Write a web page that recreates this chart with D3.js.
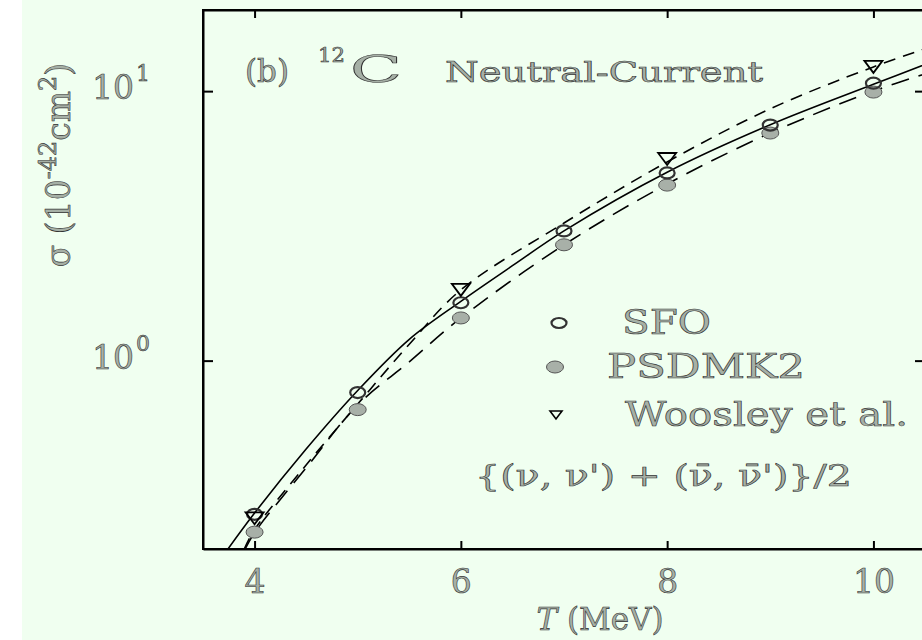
<!DOCTYPE html>
<html>
<head>
<meta charset="utf-8">
<script src="https://cdn.jsdelivr.net/npm/d3@7"></script>
<style>
  body { margin: 0; background: #ffffff; }
  svg { display: block; }
</style>
</head>
<body>
<div id="chart"></div>
<script>
// measured points
const tPoints = [4, 5, 6, 7, 8, 9, 10];
const sfo = [0.269, 0.761, 1.64, 3.03, 4.97, 7.48, 10.7];
const psdmk2 = [0.231, 0.658, 1.44, 2.69, 4.48, 6.99, 9.92];
const tWoosley = [4, 6, 8, 10];
const woosley = [0.26, 1.83, 5.6, 12.3];

// fitted curves
const tSolid = [3.7, 4, 4.5, 5, 5.5, 6, 6.5, 7, 8, 9, 10, 10.6];
const solidCurve = [0.19, 0.272, 0.47, 0.775, 1.2, 1.66, 2.25, 3.03, 5.0, 7.5, 10.6, 13.0];
const tDash = [3.9, 4, 4.5, 5, 5.5, 6, 7, 8, 9, 10, 10.6];
const shortDashCurve = [0.2, 0.236, 0.41, 0.69, 1.15, 1.83, 3.24, 5.46, 8.6, 12.3, 14.8];
const longDashCurve = [0.197, 0.23, 0.4, 0.685, 0.99, 1.44, 2.69, 4.52, 6.99, 10.0, 11.9];

const xTicks = [4, 6, 8, 10];
const yTicks = [1, 10];
const yTickExp = ["0", "1"];

const width = 922, height = 640;
const margin = { left: 203, right: -3, top: 10, bottom: 91 };

const svg = d3.select("#chart").append("svg")
  .attr("width", width).attr("height", height);

// page background (white strip on the left)
svg.append("rect").attr("x", 22).attr("y", 0)
  .attr("width", width - 22).attr("height", height).attr("fill", "#f0fff0");

const x = d3.scaleLinear().domain([3.5, 10.5]).range([margin.left, width - margin.right]);
const y = d3.scaleLog().domain([0.2, 20]).range([height - margin.bottom, margin.top]);

const font = "'DejaVu Serif', 'Liberation Serif', serif";
const outlined = (sel) => sel
  .attr("font-family", font)
  .attr("fill", "#a6b0a6")
  .attr("stroke", "#333")
  .attr("stroke-width", 0.6);

// clip to the frame
svg.append("clipPath").attr("id", "plot-clip")
  .append("rect")
  .attr("x", x.range()[0]).attr("y", y.range()[1])
  .attr("width", x.range()[1] - x.range()[0])
  .attr("height", y.range()[0] - y.range()[1]);

// axes: ticks point inward
const bottomAxis = svg.append("g")
  .attr("transform", `translate(0,${y.range()[0]})`)
  .call(d3.axisBottom(x).tickValues(xTicks).tickFormat(d3.format("d"))
    .tickSizeInner(-8).tickSizeOuter(0).tickPadding(21));
bottomAxis.selectAll("text").call(outlined).attr("font-size", 33);

svg.append("g")
  .attr("transform", `translate(0,${y.range()[1]})`)
  .call(d3.axisTop(x).tickValues(xTicks).tickSizeInner(-8).tickSizeOuter(0).tickFormat(""));

svg.append("g")
  .attr("transform", `translate(${x.range()[0]},0)`)
  .call(d3.axisLeft(y).tickValues(yTicks).tickSizeInner(-10).tickSizeOuter(0).tickFormat(""));

svg.append("g")
  .attr("transform", `translate(${x.range()[1]},0)`)
  .call(d3.axisRight(y).tickValues(yTicks).tickSizeInner(-10).tickSizeOuter(0).tickFormat(""));

svg.selectAll(".domain").attr("stroke", "#000").attr("stroke-width", 2);
svg.selectAll(".tick line").attr("stroke", "#000").attr("stroke-width", 2);

// y tick labels 10^n
yTicks.forEach((v, i) => {
  const t = svg.append("text")
    .attr("x", 92).attr("y", y(v) + 8)
    .attr("font-size", 33)
    .call(outlined);
  t.append("tspan").text("10");
  t.append("tspan").attr("font-size", 22).attr("dy", -18).attr("dx", 2).text(yTickExp[i]);
});

// curves
const plot = svg.append("g").attr("clip-path", "url(#plot-clip)");
const line = d3.line()
  .x((d) => x(d[0]))
  .y((d) => y(d[1]))
  .curve(d3.curveCatmullRom.alpha(0.5));

plot.append("path")
  .datum(d3.zip(tSolid, solidCurve))
  .attr("d", line)
  .attr("fill", "none").attr("stroke", "#000").attr("stroke-width", 1.6);

plot.append("path")
  .datum(d3.zip(tDash, shortDashCurve))
  .attr("d", line)
  .attr("fill", "none").attr("stroke", "#000").attr("stroke-width", 1.6)
  .attr("stroke-dasharray", "12,8");

plot.append("path")
  .datum(d3.zip(tDash, longDashCurve))
  .attr("d", line)
  .attr("fill", "none").attr("stroke", "#000").attr("stroke-width", 1.6)
  .attr("stroke-dasharray", "18,10");

// markers
const triPath = "M -9 -6 L 9 -6 L 0 6 Z";

plot.selectAll(".psdmk2")
  .data(d3.zip(tPoints, psdmk2))
  .join("ellipse")
  .attr("class", "psdmk2")
  .attr("cx", (d) => x(d[0])).attr("cy", (d) => y(d[1]))
  .attr("rx", 8.5).attr("ry", 6)
  .attr("fill", "#a8b0a8").attr("stroke", "#555").attr("stroke-width", 1);

plot.selectAll(".sfo")
  .data(d3.zip(tPoints, sfo))
  .join("ellipse")
  .attr("class", "sfo")
  .attr("cx", (d) => x(d[0])).attr("cy", (d) => y(d[1]))
  .attr("rx", 7.5).attr("ry", 5.5)
  .attr("fill", "none").attr("stroke", "#333").attr("stroke-width", 2.2);

plot.selectAll(".woosley")
  .data(d3.zip(tWoosley, woosley))
  .join("path")
  .attr("class", "woosley")
  .attr("transform", (d) => `translate(${x(d[0])},${y(d[1])})`)
  .attr("d", triPath)
  .attr("fill", "none").attr("stroke", "#000").attr("stroke-width", 1.8);

// frame
svg.append("rect")
  .attr("x", x.range()[0]).attr("y", y.range()[1])
  .attr("width", x.range()[1] - x.range()[0])
  .attr("height", y.range()[0] - y.range()[1])
  .attr("fill", "none").attr("stroke", "#000").attr("stroke-width", 2);

// title
svg.append("text").attr("x", 245).attr("y", 82).attr("font-size", 31)
  .attr("textLength", 44).attr("lengthAdjust", "spacingAndGlyphs")
  .call(outlined).text("(b)");
svg.append("text").attr("x", 318).attr("y", 62).attr("font-size", 20)
  .attr("textLength", 27).attr("lengthAdjust", "spacingAndGlyphs")
  .call(outlined).text("12");
svg.append("text").attr("x", 350).attr("y", 82).attr("font-size", 37)
  .attr("textLength", 52).attr("lengthAdjust", "spacingAndGlyphs")
  .call(outlined).text("C");
svg.append("text").attr("x", 445).attr("y", 82).attr("font-size", 27)
  .attr("textLength", 318).attr("lengthAdjust", "spacingAndGlyphs")
  .call(outlined).text("Neutral-Current");

// legend
const legend = svg.append("g");
legend.append("ellipse").attr("cx", 559).attr("cy", 323).attr("rx", 7.5).attr("ry", 5)
  .attr("fill", "none").attr("stroke", "#333").attr("stroke-width", 2.2);
legend.append("ellipse").attr("cx", 555).attr("cy", 367).attr("rx", 8.5).attr("ry", 6)
  .attr("fill", "#a8b0a8").attr("stroke", "#555").attr("stroke-width", 1);
legend.append("path").attr("transform", "translate(556,415)").attr("d", "M -6 -4 L 6 -4 L 0 4 Z")
  .attr("fill", "none").attr("stroke", "#000").attr("stroke-width", 1.6);

const legendItems = [
  { label: "SFO", x: 622, y: 334, w: 89 },
  { label: "PSDMK2", x: 607, y: 378, w: 198 },
  { label: "Woosley et al.", x: 625, y: 426, w: 283 },
];
legendItems.forEach((d) => {
  legend.append("text").attr("x", d.x).attr("y", d.y).attr("font-size", 33)
    .attr("textLength", d.w).attr("lengthAdjust", "spacingAndGlyphs")
    .call(outlined).text(d.label);
});

legend.append("text").attr("x", 475).attr("y", 486).attr("font-size", 29)
  .attr("textLength", 377).attr("lengthAdjust", "spacingAndGlyphs")
  .call(outlined)
  .text("{(\u03BD, \u03BD') + (\u03BD\u0304, \u03BD\u0304')}/2");

// x label
const xl = svg.append("text").attr("x", 600).attr("y", 630).attr("font-size", 31)
  .attr("text-anchor", "middle").call(outlined);
xl.append("tspan").attr("font-style", "italic").text("T");
xl.append("tspan").text(" (MeV)");

// y label
const yl = svg.append("text")
  .attr("transform", "translate(70,165) rotate(-90)")
  .attr("text-anchor", "middle").attr("font-size", 33).call(outlined);
yl.append("tspan").text("\u03C3 (10");
yl.append("tspan").attr("font-size", 24).attr("dy", -14).text("-42");
yl.append("tspan").attr("dy", 14).text("cm");
yl.append("tspan").attr("font-size", 24).attr("dy", -14).text("2");
yl.append("tspan").attr("dy", 14).text(")");
</script>
</body>
</html>
